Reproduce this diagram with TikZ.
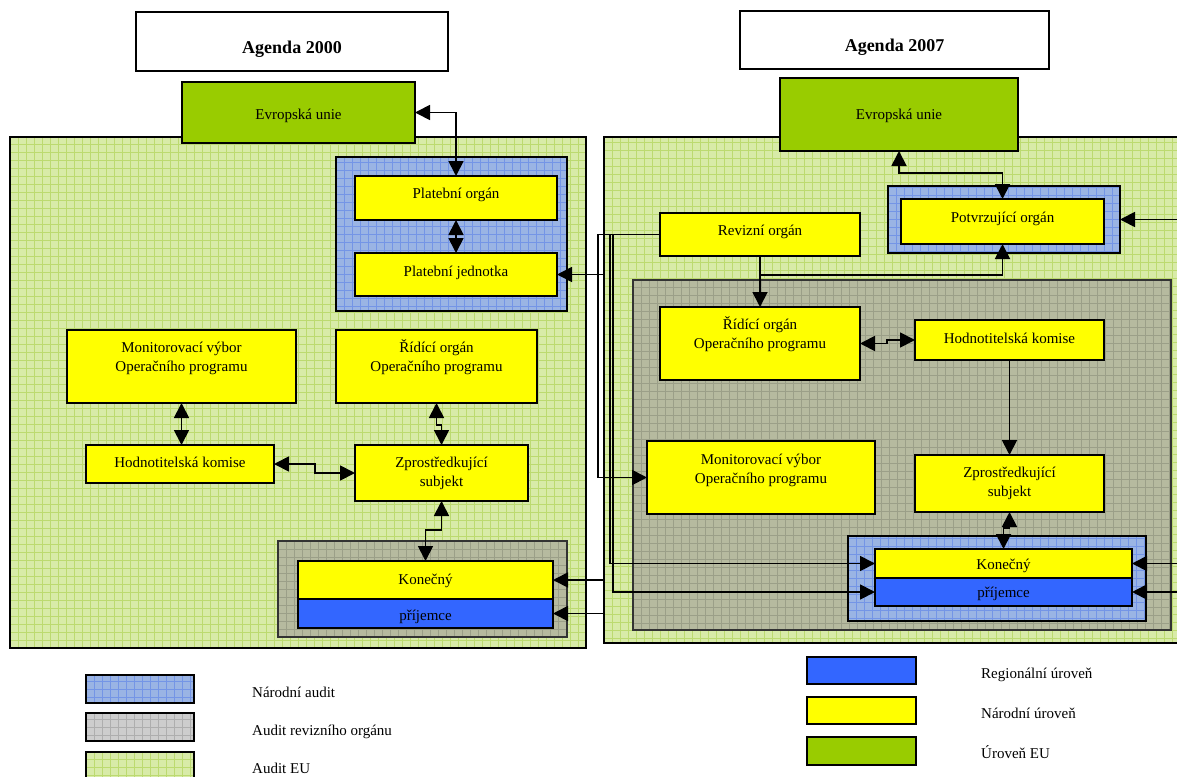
\documentclass[tikz,border=0pt]{standalone}
\usepackage{fontspec}
\setmainfont{Liberation Serif}
\usetikzlibrary{arrows.meta,fit}

\definecolor{eugreen}{HTML}{99CC00}
\definecolor{natyellow}{HTML}{FFFF00}
\definecolor{regblue}{HTML}{3366FF}
\definecolor{eufill}{HTML}{D8EBA8}
\definecolor{eugrid}{HTML}{BCDA70}
\definecolor{natfill}{HTML}{9AB4E4}
\definecolor{natgrid}{HTML}{7495E6}
\definecolor{revfill}{HTML}{B6BA9F}
\definecolor{revgrid}{HTML}{9B9F88}
\definecolor{legrey}{HTML}{CDCDCD}
\definecolor{legreygrid}{HTML}{AEAEAE}

% two centred lines, baseline on the first one
\newcommand\twolines[2]{\begin{tabular}[t]{@{}c@{}}#1\\#2\end{tabular}}

\begin{document}
\begin{tikzpicture}[x=1pt,y=-1pt,
  txt/.style={font=\fontsize{15}{19}\selectfont},
  gridded/.style 2 args={fill=#1, path picture={
      \draw[#2, line width=0.5pt] (path picture bounding box.south west)
        grid[step=8pt] (path picture bounding box.north east);}},
  area/.style={draw=black, line width=1.8pt, inner sep=0pt, outer sep=0pt},
  audeu/.style={area, gridded={eufill}{eugrid}},
  audnat/.style={area, gridded={natfill}{natgrid}},
  audrev/.style={area, draw=black!80, gridded={revfill}{revgrid}},
  audgrey/.style={area, gridded={legrey}{legreygrid}},
  box/.style={draw=black, line width=2pt, inner sep=0pt, outer sep=0pt, txt},
  natbox/.style={box, fill=natyellow},
  regbox/.style={box, fill=regblue},
  eubox/.style={box, fill=eugreen},
  titlebox/.style={box, fill=white, line width=1.6pt,
    font=\bfseries\fontsize{18}{20}\selectfont},
  sz/.style 2 args={minimum width=#1pt, minimum height=#2pt},
  % baseline placed #1/2 below / above the box centre
  txtdown/.style={text height=#1pt, text depth=0pt},
  txtup/.style={text height=0pt, text depth=#1pt},
  legtext/.style={txt, anchor=base west, inner sep=0pt},
  tip/.tip={Triangle[length=15pt,width=15pt]},
  arr/.style={line width=1.8pt, -tip},
  dbl/.style={line width=1.8pt, tip-tip},
]
\useasboundingbox (0,0) rectangle (1177,776);
\clip (0,0) rectangle (1177,776);

% ---------------- Agenda 2000 ----------------
\node[audeu, fit={(10,137) (586,648)}] (lpanel) {};
\node[titlebox, sz={312}{59}, txtdown=23] (ltitle) at (292,41.5) {Agenda 2000};
\node[eubox, sz={233}{61}, txtdown=13] (leu) at (298.5,112.5) {Evropská unie};
\node[audnat, fit={(336,157) (567,311)}] (lnat) {};
\node[natbox, sz={202}{44}, txtdown=0] (po) at (456,198) {Platební orgán};
\node[natbox, sz={202}{43}, txtdown=3] (pj) at (456,274.5) {Platební jednotka};
\node[natbox, sz={229}{73}, txtup=29] (lmv) at (181.5,366.5)
  {\twolines{Monitorovací výbor}{Operačního programu}};
\node[natbox, sz={201}{73}, txtup=29] (lro) at (436.5,366.5)
  {\twolines{Řídící orgán}{Operačního programu}};
\node[natbox, sz={188}{38}, txtdown=6] (lhk) at (180,464) {Hodnotitelská komise};
\node[natbox, sz={173}{56}, txtup=12] (lzs) at (441.5,473)
  {\twolines{Zprostředkující}{subjekt}};
\node[audrev, fit={(278,541) (567,637)}] (lrev) {};
\node[natbox, sz={255}{38}, txtdown=8] (lkon) at (425.5,580) {Konečný};
\node[regbox, sz={255}{29}, txtdown=13] (lpri) at (425.5,613.5) {příjemce};

% ---------------- Agenda 2007 ----------------
\node[audeu, fit={(604,137) (1195,643)}] (rpanel) {};
\node[titlebox, sz={309}{58}, txtdown=24] (rtitle) at (894.5,40) {Agenda 2007};
\node[eubox, sz={238}{73}, txtdown=9] (reu) at (899,114.5) {Evropská unie};
\node[audnat, fit={(888,186) (1120,253)}] (rnat) {};
\node[natbox, sz={203}{45}, txtdown=1] (pv) at (1002.5,221.5) {Potvrzující orgán};
\node[natbox, sz={200}{43}, txtdown=1] (rv) at (760,234.5) {Revizní orgán};
\node[audrev, fit={(633,280) (1171,630)}] (rrev) {};
\node[natbox, sz={200}{73}, txtup=29] (rro) at (760,343.5)
  {\twolines{Řídící orgán}{Operačního programu}};
\node[natbox, sz={189}{40}, txtdown=6] (rhk) at (1009.5,340) {Hodnotitelská komise};
\node[natbox, sz={228}{73}, txtup=27] (rmv) at (761,477.5)
  {\twolines{Monitorovací výbor}{Operačního programu}};
\node[natbox, sz={189}{57}, txtup=13] (rzs) at (1009.5,483.5)
  {\twolines{Zprostředkující}{subjekt}};
\node[audnat, fit={(848,536) (1146,621)}] (rnat2) {};
\node[natbox, sz={257}{29}, txtdown=11] (rkon) at (1003.5,563.5) {Konečný};
\node[regbox, sz={257}{28}, txtdown=10] (rpri) at (1003.5,592) {příjemce};

% ---------------- connectors, Agenda 2000 ----------------
\draw[dbl] (leu.east) -| (po.north);
\draw[dbl] (po.south) -- (pj.north);
\draw[dbl] (lmv.south) -- (lmv.south |- lhk.north);
\coordinate (j1) at (439,425);
\draw[dbl] (lro.south) |- (j1) -| (lzs.north);
\coordinate (j2) at (315,473);
\draw[dbl] (lhk.east) -| (j2) -- (lzs.west);
\coordinate (j3) at (434,530);
\draw[dbl] (lzs.south) |- (j3) -| (lkon.north);

% ---------------- connectors, Agenda 2007 ----------------
\coordinate (j4) at (950,173);
\draw[dbl] (reu.south) |- (j4) -| (pv.north);
\coordinate (edgeP) at (1180,219.5);
\draw[arr] (edgeP) -- (rnat.east);
\draw[arr] (rv.south) -- (rro.north);
\coordinate (b1) at (760,275);
\draw[arr] (b1) -| (pv.south);
\coordinate (c1) at (598,300);
\draw[arr] (rv.west) -| (c1) |- (rmv.west);
\coordinate (c2) at (610,300);
\draw[arr] (rv.west) -| (c2) |- (rkon.west);
\coordinate (c3) at (613,300);
\draw[arr] (rv.west) -| (c3) |- (rpri.west);
\coordinate (j5) at (887,342);
\draw[dbl] (rro.east) -| (j5) |- (rhk.west);
\draw[arr] (rhk.south) -- (rzs.north);
\coordinate (j6) at (1006,528);
\draw[dbl] (rzs.south) |- (j6) -| (rkon.north);
\coordinate (edgeK) at (1180,563.5);
\draw[arr] (edgeK) -- (rkon.east);
\coordinate (edgeR) at (1180,592);
\draw[arr] (edgeR) -- (rpri.east);

% links from the 2007 side into the 2000 side
\coordinate (gA) at (604,274.5);
\draw[arr] (gA) -- (pj.east);
\coordinate (gB) at (604,580);
\draw[arr] (gB) -- (lkon.east);
\coordinate (gC) at (604,613.5);
\draw[arr] (gC) -- (lpri.east);

% ---------------- legend ----------------
\node[audnat, fit={(86,675) (194,703)}] (sw1) {};
\node[legtext] (t1) at (252,697) {Národní audit};
\node[audgrey, fit={(86,713) (194,741)}] (sw2) {};
\node[legtext] (t2) at (252,735) {Audit revizního orgánu};
\node[audeu, fit={(86,752) (194,782)}] (sw3) {};
\node[legtext] (t3) at (252,773) {Audit EU};
\node[regbox, fit={(807,657) (916,684)}] (sw4) {};
\node[legtext] (t4) at (981,678) {Regionální úroveň};
\node[natbox, fit={(807,697) (916,724)}] (sw5) {};
\node[legtext] (t5) at (981,718) {Národní úroveň};
\node[eubox, fit={(807,737) (916,765)}] (sw6) {};
\node[legtext] (t6) at (981,758) {Úroveň EU};
\end{tikzpicture}
\end{document}
